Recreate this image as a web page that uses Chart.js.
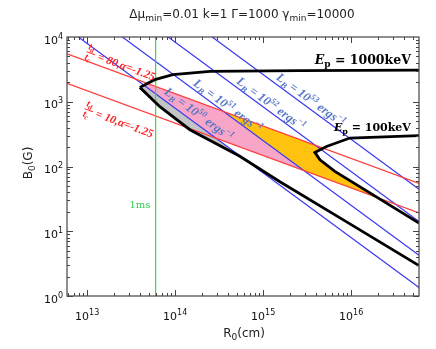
<!DOCTYPE html>
<html>
<head>
<meta charset="utf-8">
<script src="https://cdn.jsdelivr.net/npm/chart.js@4.4.1/dist/chart.umd.min.js"></script>
<style>
  html, body { margin: 0; padding: 0; background: #fff; }
  #wrap { width: 436px; height: 349px; }
</style>
</head>
<body>
<div id="wrap"><canvas id="chart"></canvas></div>
<script>
// axis ranges: R0 in cm, B0 in Gauss
const xRange = [5.9e12, 5.9e16];
const yRange = [1, 1e4];
const xTickExps = [13, 14, 15, 16];
const yTickExps = [0, 1, 2, 3, 4];

// constant L_B lines (B*R = const), labelled by exponent
const lbExps = ['50', '51', '52', '53'];
const lbLines = [
    [{x: 7.94e12, y: 1e4}, {x: 5.9e16, y: 1.35}],
    [{x: 2.51e13, y: 1e4}, {x: 5.9e16, y: 4.26}],
    [{x: 8.32e13, y: 1e4}, {x: 5.9e16, y: 14.1}],
    [{x: 2.63e14, y: 1e4}, {x: 5.9e16, y: 44.6}]
];
const lbLabelAt = [
    {x: 1.86e14, y: 643}, {x: 3.97e14, y: 869},
    {x: 1.225e15, y: 933}, {x: 3.48e15, y: 1076}
];

// t_d/t_c lines, alpha = -1.25
const ratioVals = ['80', '10'];
const ratioLines = [
    [{x: 5.9e12, y: 5490}, {x: 5.9e16, y: 54.9}],
    [{x: 5.9e12, y: 1925}, {x: 5.9e16, y: 19.25}]
];
const ratioLabelAt = [{x: 1.10e13, y: 5724}, {x: 1.045e13, y: 754}];

// 1 ms line
const oneMs = [{x: 6e13, y: 1}, {x: 6e13, y: 1e4}];
const oneMsLabelAt = {x: 3.98e13, y: 25.2};

// black boundaries
const ep1000 = [
    {x: 3.97e13, y: 1667}, {x: 5.87e13, y: 2193}, {x: 9.42e13, y: 2618},
    {x: 2.48e14, y: 2944}, {x: 2.61e15, y: 3020}, {x: 5.9e16, y: 3070}
];
const lowerEdge = [
    {x: 3.97e13, y: 1667}, {x: 6.70e13, y: 839}, {x: 1.47e14, y: 370},
    {x: 5.43e14, y: 144}, {x: 1.55e15, y: 58.2}, {x: 8.05e15, y: 15.1},
    {x: 5.9e16, y: 2.94}
];
const ep100 = [
    {x: 5.9e16, y: 299}, {x: 9.66e15, y: 275}, {x: 5.25e15, y: 204},
    {x: 3.87e15, y: 165}, {x: 4.42e15, y: 127}, {x: 6.53e15, y: 84},
    {x: 5.9e16, y: 13.4}
];
const epLabels = ['1000', '100'];
const epLabelAt = [{x: 4.77e16, y: 3873}, {x: 4.77e16, y: 357}];
const epLabelSize = [12.5, 11];

// shaded zones
const grayZone = [
    {x: 3.97e13, y: 1667}, {x: 6.70e13, y: 839}, {x: 1.47e14, y: 370},
    {x: 5.43e14, y: 144}, {x: 4.42e13, y: 1799}
];
const pinkZone = [
    {x: 4.42e13, y: 1799}, {x: 4.89e13, y: 1905}, {x: 3.55e14, y: 708},
    {x: 2.88e15, y: 87.1}, {x: 2.88e14, y: 275}
];
const orangeZone = [
    {x: 3.55e14, y: 708}, {x: 4.82e15, y: 192}, {x: 3.87e15, y: 165},
    {x: 4.42e15, y: 127}, {x: 6.53e15, y: 84}, {x: 2.0e16, y: 33.1},
    {x: 2.88e15, y: 87.1}
];

const SANS = '"DejaVu Sans"';
const SERIF = '"Liberation Serif"';

function runsWidth(ctx, runs) {
    let w = 0;
    for (const r of runs) { ctx.font = r[1]; w += ctx.measureText(r[0]).width; }
    return w;
}
function drawRuns(ctx, runs, x, y) {
    for (const r of runs) {
        ctx.font = r[1];
        ctx.fillText(r[0], x, y + (r[2] || 0));
        x += ctx.measureText(r[0]).width;
    }
}
function lineAngle(chart, pts) {
    const xs = chart.scales.x, ys = chart.scales.y;
    const dx = xs.getPixelForValue(pts[1].x) - xs.getPixelForValue(pts[0].x);
    const dy = ys.getPixelForValue(pts[1].y) - ys.getPixelForValue(pts[0].y);
    return Math.atan2(dy, dx);
}

const decorations = {
    id: 'decorations',
    afterDatasetsDraw(chart) {
        const ctx = chart.ctx, a = chart.chartArea;
        const xs = chart.scales.x, ys = chart.scales.y;
        ctx.save();
        ctx.textAlign = 'left';
        ctx.textBaseline = 'alphabetic';

        // L_B labels
        lbExps.forEach((e, i) => {
            const px = xs.getPixelForValue(lbLabelAt[i].x), py = ys.getPixelForValue(lbLabelAt[i].y);
            const big = 'bold italic 12.5px ' + SERIF, small = 'bold italic 8.5px ' + SERIF;
            const runs = [['L', big], ['B', small, 3], [' = 10', big], [e, small, -5],
                          [' ergs', big], ['\u22121', small, -5]];
            ctx.save();
            ctx.translate(px, py);
            ctx.rotate(lineAngle(chart, lbLines[i]));
            ctx.fillStyle = '#5877c6';
            drawRuns(ctx, runs, -runsWidth(ctx, runs) / 2, 4);
            ctx.restore();
        });

        // t_d/t_c labels
        ratioVals.forEach((v, i) => {
            const px = xs.getPixelForValue(ratioLabelAt[i].x), py = ys.getPixelForValue(ratioLabelAt[i].y);
            ctx.save();
            ctx.translate(px, py);
            ctx.rotate(lineAngle(chart, ratioLines[i]));
            ctx.fillStyle = '#ff2020';
            ctx.strokeStyle = '#ff2020';
            const f = 'bold italic 10px ' + SERIF, fs = 'bold italic 7px ' + SERIF;
            drawRuns(ctx, [['t', f], ['d', fs, 2]], -4, -2.5);
            drawRuns(ctx, [['t', f], ['c', fs, 2]], -4, 8.5);
            ctx.lineWidth = 0.9;
            ctx.beginPath(); ctx.moveTo(-4.5, 0.5); ctx.lineTo(4.5, 0.5); ctx.stroke();
            drawRuns(ctx, [['= ' + v + ',\u03b1=-1.25', 'bold italic 11.5px ' + SERIF]], 8, 4.5);
            ctx.restore();
        });

        // 1ms
        ctx.fillStyle = '#33cc55';
        ctx.font = '10px "DejaVu Serif"';
        ctx.textAlign = 'center';
        ctx.textBaseline = 'middle';
        ctx.fillText('1ms', xs.getPixelForValue(oneMsLabelAt.x), ys.getPixelForValue(oneMsLabelAt.y));

        // E_p labels
        ctx.textAlign = 'left';
        ctx.textBaseline = 'alphabetic';
        ctx.fillStyle = '#000';
        epLabels.forEach((v, i) => {
            const s = epLabelSize[i];
            const runs = [['E', 'bold italic ' + s + 'px "DejaVu Serif"'],
                          ['p', 'bold ' + (s * 0.72) + 'px "DejaVu Serif"', 3],
                          [' = ' + v + 'keV', 'bold ' + s + 'px "DejaVu Serif"']];
            const px = xs.getPixelForValue(epLabelAt[i].x), py = ys.getPixelForValue(epLabelAt[i].y);
            drawRuns(ctx, runs, px - runsWidth(ctx, runs), py);
        });

        // frame and inward ticks
        ctx.strokeStyle = '#444';
        ctx.lineWidth = 1.2;
        ctx.strokeRect(a.left, a.top, a.right - a.left, a.bottom - a.top);
        ctx.lineWidth = 1;
        ctx.beginPath();
        for (let e = 12; e <= 16; e++) {
            for (let k = 1; k <= 9; k++) {
                const v = k * Math.pow(10, e);
                if (v < xRange[0] || v > xRange[1]) continue;
                const p = Math.round(xs.getPixelForValue(v)) + 0.5, len = k === 1 ? 6 : 3;
                ctx.moveTo(p, a.bottom); ctx.lineTo(p, a.bottom - len);
                ctx.moveTo(p, a.top); ctx.lineTo(p, a.top + len);
            }
        }
        for (let e = 0; e <= 3; e++) {
            for (let k = 1; k <= 9; k++) {
                const v = k * Math.pow(10, e);
                if (v < yRange[0] || v > yRange[1]) continue;
                const p = Math.round(ys.getPixelForValue(v)) + 0.5, len = k === 1 ? 6 : 3;
                ctx.moveTo(a.left, p); ctx.lineTo(a.left + len, p);
                ctx.moveTo(a.right, p); ctx.lineTo(a.right - len, p);
            }
        }
        ctx.stroke();
        ctx.restore();
    },
    afterDraw(chart) {
        const ctx = chart.ctx, a = chart.chartArea;
        const xs = chart.scales.x, ys = chart.scales.y;
        const big = '11px ' + SANS, small = '8px ' + SANS;
        ctx.save();
        ctx.fillStyle = '#111';
        ctx.textAlign = 'left';
        ctx.textBaseline = 'alphabetic';

        xTickExps.forEach(e => {
            const runs = [['10', big], [String(e), small, -5]];
            const p = xs.getPixelForValue(Math.pow(10, e));
            drawRuns(ctx, runs, p - runsWidth(ctx, runs) / 2, a.bottom + 24);
        });
        yTickExps.forEach(e => {
            const runs = [['10', big], [String(e), small, -5]];
            const p = ys.getPixelForValue(Math.pow(10, e));
            drawRuns(ctx, runs, a.left - 4 - runsWidth(ctx, runs), p + 6.5);
        });

        // title
        const t = '12px ' + SANS, ts = '9px ' + SANS;
        const title = [['\u0394\u03bc', t], ['min', ts, 3], ['=0.01 k=1 \u0393=1000 \u03b3', t],
                       ['min', ts, 3], ['=10000', t]];
        ctx.fillStyle = '#222';
        drawRuns(ctx, title, 242 - runsWidth(ctx, title) / 2, 18);

        // axis titles
        const xl = [['R', t], ['0', ts, 3], ['(cm)', t]];
        drawRuns(ctx, xl, (a.left + a.right) / 2 - runsWidth(ctx, xl) / 2 + 1, 337);
        const yl = [['B', t], ['0', ts, 3], ['(G)', t]];
        ctx.translate(32, 163);
        ctx.rotate(-Math.PI / 2);
        drawRuns(ctx, yl, -runsWidth(ctx, yl) / 2, 0);
        ctx.restore();
    }
};

const mk = (data, color, width, extra) => Object.assign({
    data: data, borderColor: color, borderWidth: width, pointRadius: 0,
    showLine: true, fill: false, tension: 0
}, extra || {});

const datasets = [
    mk(ep1000, '#000', 2.8),
    mk(ep100, '#000', 2.8),
    mk(lowerEdge, '#000', 2.8),
    mk(oneMs, '#33e033', 1.2),
    ...ratioLines.map(d => mk(d, '#ff3c3c', 1.2)),
    ...lbLines.map(d => mk(d, '#3838f0', 1.2)),
    mk(orangeZone, 'rgba(0,0,0,0)', 0, {fill: 'shape', backgroundColor: '#ffc20f'}),
    mk(pinkZone, 'rgba(0,0,0,0)', 0, {fill: 'shape', backgroundColor: '#f8a6c8'}),
    mk(grayZone, 'rgba(0,0,0,0)', 0, {fill: 'shape', backgroundColor: '#c4c4c4'})
];

const config = {
    type: 'scatter',
    data: { datasets: datasets },
    options: {
        responsive: true,
        maintainAspectRatio: false,
        animation: false,
        events: [],
        layout: { padding: { top: 37, right: 17, left: 0, bottom: 0 } },
        plugins: { legend: { display: false }, tooltip: { enabled: false }, title: { display: false } },
        scales: {
            x: {
                type: 'logarithmic', min: xRange[0], max: xRange[1],
                grid: { display: false }, border: { display: false }, ticks: { display: false },
                afterFit: s => { s.height = 53; }
            },
            y: {
                type: 'logarithmic', min: yRange[0], max: yRange[1],
                grid: { display: false }, border: { display: false }, ticks: { display: false },
                afterFit: s => { s.width = 67; }
            }
        }
    },
    plugins: [decorations]
};

window.onload = function () {
    new Chart(document.getElementById('chart').getContext('2d'), config);
};
</script>
</body>
</html>
